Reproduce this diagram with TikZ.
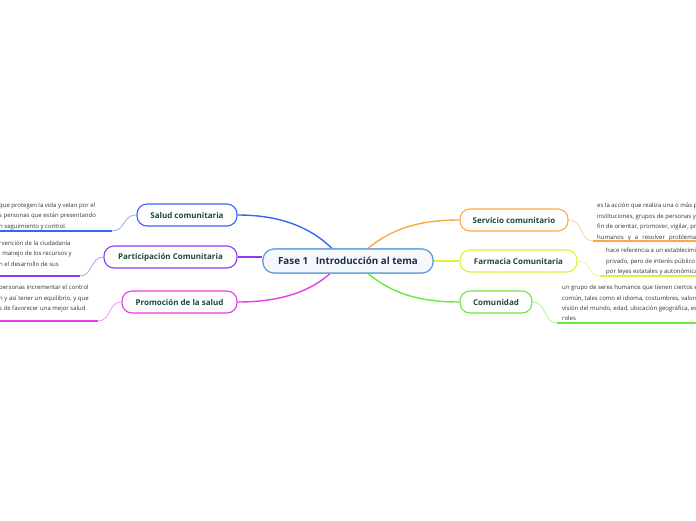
\documentclass[tikz,border=0pt]{standalone}
\usepackage{fontspec}
\setmainfont{Open Sans}
\usepackage{tikz}
\usetikzlibrary{positioning,calc}
\usepackage{xcolor}

\definecolor{titlegreen}{HTML}{1D4A3A}
\definecolor{notegray}{HTML}{333333}
\definecolor{rootnavy}{HTML}{1C2E4C}
\definecolor{rootblue}{HTML}{5C9DD8}
\definecolor{cblue}{HTML}{3568F2}
\definecolor{cpurple}{HTML}{8B3DEE}
\definecolor{cmagenta}{HTML}{E63CE6}
\definecolor{corange}{HTML}{FFA845}
\definecolor{cyellow}{HTML}{DCF23E}
\definecolor{cgreen}{HTML}{6AE83A}

\tikzset{
  topic/.style={draw=#1, rounded corners=10pt, line width=1.1pt, fill=white,
    minimum height=22pt, inner sep=0pt, text=titlegreen,
    font=\bfseries\fontsize{8}{9}\selectfont},
  root/.style={draw=rootblue, rounded corners=11pt, line width=1.1pt, fill=rootblue!6,
    minimum width=170pt, minimum height=24pt, inner sep=0pt, text=rootnavy,
    font=\bfseries\fontsize{9.8}{11}\selectfont},
  note/.style={inner sep=0pt, align=left, text=notegray,
    font=\fontsize{6}{10.4}\selectfont},
  branch/.style={draw=#1, line width=1.4pt},
  twig/.style={draw=#1!55, line width=0.8pt},
  rule/.style={draw=#1, line width=2pt},
}

\begin{document}
\begin{tikzpicture}[x=1pt,y=-1pt]
  \useasboundingbox (0,0) rectangle (696,520);
  \clip (0,0) rectangle (696,520);

  % central topic
  \node[root] (fase) at (348,261) {Fase 1\ \ \ Introducción al tema};

  % left branches
  \node[topic=cblue, minimum width=100pt] (salud) at (187,215) {Salud comunitaria};
  \node[topic=cpurple, minimum width=133pt] (part) at (170.5,257) {Participación Comunitaria};
  \node[topic=cmagenta, minimum width=115pt] (promo) at (179.5,302) {Promoción de la salud};

  % right branches
  \node[topic=corange, minimum width=108pt] (serv) at (514,220) {Servicio comunitario};
  \node[topic=cyellow, minimum width=117pt] (farm) at (518.5,261) {Farmacia Comunitaria};
  \node[topic=cgreen, minimum width=72pt] (comu) at (496,302) {Comunidad};

  % notes
  \node[note, anchor=north west] (saludtxt) at (-1,202.5)
    {que protegen la vida y velan por el\\s personas que están presentando\\n seguimiento y control.};
  \node[note, anchor=north west] (parttxt) at (-1,240.5)
    {rvención de la ciudadanía\\l manejo de los recursos y\\n el desarrollo de sus};
  \node[note, anchor=north west] (promotxt) at (-1,285)
    {personas incrementar el control\\n y así tener un equilibrio, y que\\s de favorecer una mejor salud};
  \node[note, anchor=north west] (servtxt) at (597,203)
    {es la acción que realiza una o más p\\instituciones, grupos de personas y\\fin de orientar, promover, vigilar, pro\\\makebox[99pt][s]{humanos y a resolver problema}};
  \node[note, anchor=north west] (farmtxt) at (606,248)
    {hace referencia a un establecimi\\privado, pero de interés público\\por leyes estatales y autonómica};
  \node[note, anchor=north west] (comutxt) at (562,285)
    {un grupo de seres humanos que tienen ciertos e\\común, tales como el idioma, costumbres, valore\\visión del mundo, edad, ubicación geográfica, es\\roles};

  % underline ends
  \coordinate (saludA) at (112,231);  \coordinate (saludB) at (0,231);
  \coordinate (partA) at (80,276);    \coordinate (partB) at (0,276);
  \coordinate (promoA) at (98,321);   \coordinate (promoB) at (0,321);
  \coordinate (servA) at (593,241);   \coordinate (servB) at (696,241);
  \coordinate (farmA) at (600,276);   \coordinate (farmB) at (696,276);
  \coordinate (comuA) at (557,323);   \coordinate (comuB) at (696,323);

  % branches from the centre
  \draw[branch=cblue] ($(fase.north)+(-16,0)$) .. controls (305,222) and (270,215) .. (salud.east);
  \draw[branch=cpurple] (fase.west |- part.east) -- (part.east);
  \draw[branch=cmagenta] ($(fase.south)+(-18,0)$) .. controls (305,296) and (270,302) .. (promo.east);
  \draw[branch=corange] ($(fase.north)+(20,0)$) .. controls (395,226) and (425,220) .. (serv.west);
  \draw[branch=cyellow] (fase.east) -- (farm.west);
  \draw[branch=cgreen] ($(fase.south)+(20,0)$) .. controls (395,296) and (425,302) .. (comu.west);
  \node[root] at (fase) {Fase 1\ \ \ Introducción al tema};

  % twigs and underlines
  \draw[twig=cblue] (salud.west) .. controls (122,215) and (126,231) .. (saludA);
  \draw[rule=cblue] (saludA) -- (saludB);
  \draw[twig=cpurple] (part.west) .. controls (90,257) and (93,276) .. (partA);
  \draw[rule=cpurple] (partA) -- (partB);
  \draw[twig=cmagenta] (promo.west) .. controls (108,302) and (111,321) .. (promoA);
  \draw[rule=cmagenta] (promoA) -- (promoB);
  \draw[twig=corange] (serv.east) .. controls (583,220) and (580,241) .. (servA);
  \draw[rule=corange] (servA) -- (servB);
  \draw[twig=cyellow] (farm.east) .. controls (591,261) and (588,276) .. (farmA);
  \draw[rule=cyellow] (farmA) -- (farmB);
  \draw[twig=cgreen] (comu.east) .. controls (547,302) and (543,323) .. (comuA);
  \draw[rule=cgreen] (comuA) -- (comuB);
\end{tikzpicture}
\end{document}
